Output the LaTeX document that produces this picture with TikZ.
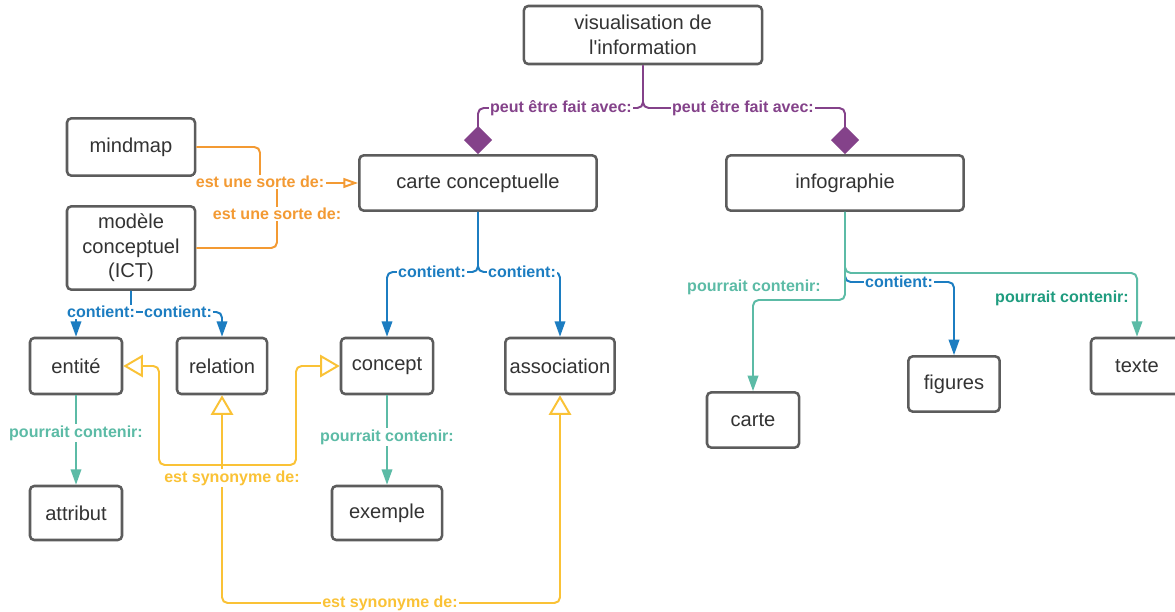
\documentclass[tikz,border=0pt]{standalone}
\usepackage{fontspec}
\setmainfont{Liberation Sans}[Ligatures=TeXOff]
\usetikzlibrary{arrows.meta}
\definecolor{ink}{HTML}{333333}
\definecolor{frame}{HTML}{5C5C5C}
\definecolor{plum}{HTML}{84428A}
\definecolor{tang}{HTML}{F39A33}
\definecolor{sea}{HTML}{1C7DC1}
\definecolor{mint}{HTML}{5CBBA6}
\definecolor{jade}{HTML}{1F9C7F}
\definecolor{sun}{HTML}{FAC236}

\begin{document}
\begin{tikzpicture}[
  x=0.025cm, y=-0.025cm,
  box/.style={rectangle,draw=frame,line width=1.8pt,rounded corners=3pt,text=ink,align=center,inner sep=2pt,font=\fontsize{14.3}{17.4}\selectfont},
  lab/.style={fill=white,inner sep=1pt,font=\fontsize{11.4}{13}\selectfont\bfseries},
  link/.style={line width=1.4pt,rounded corners=4pt},
  head/.style={-{Triangle[length=11pt,width=7.5pt]}},
  sortof/.style={-{Triangle[open,length=10.5pt,width=7pt]}},
  twin/.style={{Triangle[open,length=14pt,width=16pt]}-{Triangle[open,length=14pt,width=16pt]}},
  diam/.style={-{Diamond[length=20pt,width=20pt]}}]

\useasboundingbox[fill=white] (0,0) rectangle (1175,611);

\node[box,minimum width=5.95cm,minimum height=1.45cm] (vis) at (643,35) {visualisation de\\l'information};
\node[box,minimum width=3.2cm,minimum height=1.43cm] (mm) at (131,147) {mindmap};
\node[box,minimum width=5.93cm,minimum height=1.38cm] (cc) at (478,183) {carte conceptuelle};
\node[box,minimum width=5.93cm,minimum height=1.38cm] (ig) at (845,183) {infographie};
\node[box,minimum width=3.2cm,minimum height=2.08cm] (md) at (131,248) {modèle\\conceptuel\\(ICT)};

\node[box,minimum width=2.3cm,minimum height=1.4cm] (ent) at (76,366) {entité};
\node[box,minimum width=2.25cm,minimum height=1.4cm] (rel) at (222,366) {relation};
\node[box,minimum width=2.3cm,minimum height=1.4cm] (con) at (387,366) {concept};
\node[box,minimum width=2.73cm,minimum height=1.4cm] (asc) at (560,366) {association};
\node[box,minimum width=2.3cm,minimum height=1.38cm] (crt) at (753,420) {carte};
\node[box,minimum width=2.28cm,minimum height=1.38cm] (fig) at (954,384) {figures};
\node[box,minimum width=2.3cm,minimum height=1.4cm] (txt) at (1137,366) {texte};
\node[box,minimum width=2.3cm,minimum height=1.35cm] (att) at (76,513) {attribut};
\node[box,minimum width=2.75cm,minimum height=1.35cm] (ex) at (387,513) {exemple};

% junctions
\coordinate (vj) at (643,108);
\coordinate (o1) at (260,183);
\coordinate (o2) at (277,183);
\coordinate (cj) at (478,272);
\coordinate (mj) at (131,312);
\coordinate (bj) at (845,282);
\coordinate (tj) at (845,273);
\coordinate (lj) at (845,300);
\coordinate (y1) at (159,465);
\coordinate (y2) at (296,465);
\coordinate (y3) at (222,603);
\coordinate (y4) at (560,603);

% peut etre fait avec
\draw[link,plum,diam] (vis.south) -- (vj) -| (cc.north);
\draw[link,plum,diam] (vis.south) -- (vj) -| (ig.north);
\node[lab,text=plum] (p1) at (561,108) {peut être fait avec:};
\node[lab,text=plum] (p2) at (743,108) {peut être fait avec:};

% est une sorte de
\draw[link,tang,sortof] (mm.east) -| (o1) -- (cc.west);
\draw[link,tang] (md.east) -| (o2);
\node[lab,text=tang] (s1) at (260,182) {est une sorte de:};
\node[lab,text=tang] (s2) at (277,214) {est une sorte de:};

% contient
\draw[link,sea,head] (cc.south) -- (cj) -| (con.north);
\draw[link,sea,head] (cc.south) -- (cj) -| (asc.north);
\node[lab,text=sea] (c1) at (432,272) {contient:};
\node[lab,text=sea] (c2) at (522,272) {contient:};
\draw[link,sea,head] (md.south) -- (mj) -| (ent.north);
\draw[link,sea,head] (md.south) -- (mj) -| (rel.north);
\node[lab,text=sea] (c3) at (101,312) {contient:};
\node[lab,text=sea] (c4) at (178,312) {contient:};
\draw[link,sea,head] (ig.south) -- (bj) -| (fig.north);

% pourrait contenir
\draw[link,mint,head] (ig.south) -- (tj) -| (txt.north);
\draw[link,mint,head] (ig.south) -- (lj) -| (crt.north);
\node[lab,text=sea] (c5) at (899,282) {contient:};
\node[lab,text=mint] (r1) at (754,287) {pourrait contenir:};
\node[lab,text=jade] (r2) at (1062,298) {pourrait contenir:};
\draw[link,mint,head] (ent.south) -- (att.north);
\draw[link,mint,head] (con.south) -- (ex.north);
\node[lab,text=mint] (r3) at (76,433) {pourrait contenir:};
\node[lab,text=mint] (r4) at (387,437) {pourrait contenir:};

% est synonyme de
\draw[link,sun,twin] (ent.east) -| (y1) -- (y2) |- (con.west);
\draw[link,sun,twin] (rel.south) -- (y3) -- (y4) -- (asc.south);
\node[lab,text=sun] (e1) at (232,478) {est synonyme de:};
\node[lab,text=sun] (e2) at (390,603) {est synonyme de:};
\end{tikzpicture}
\end{document}
